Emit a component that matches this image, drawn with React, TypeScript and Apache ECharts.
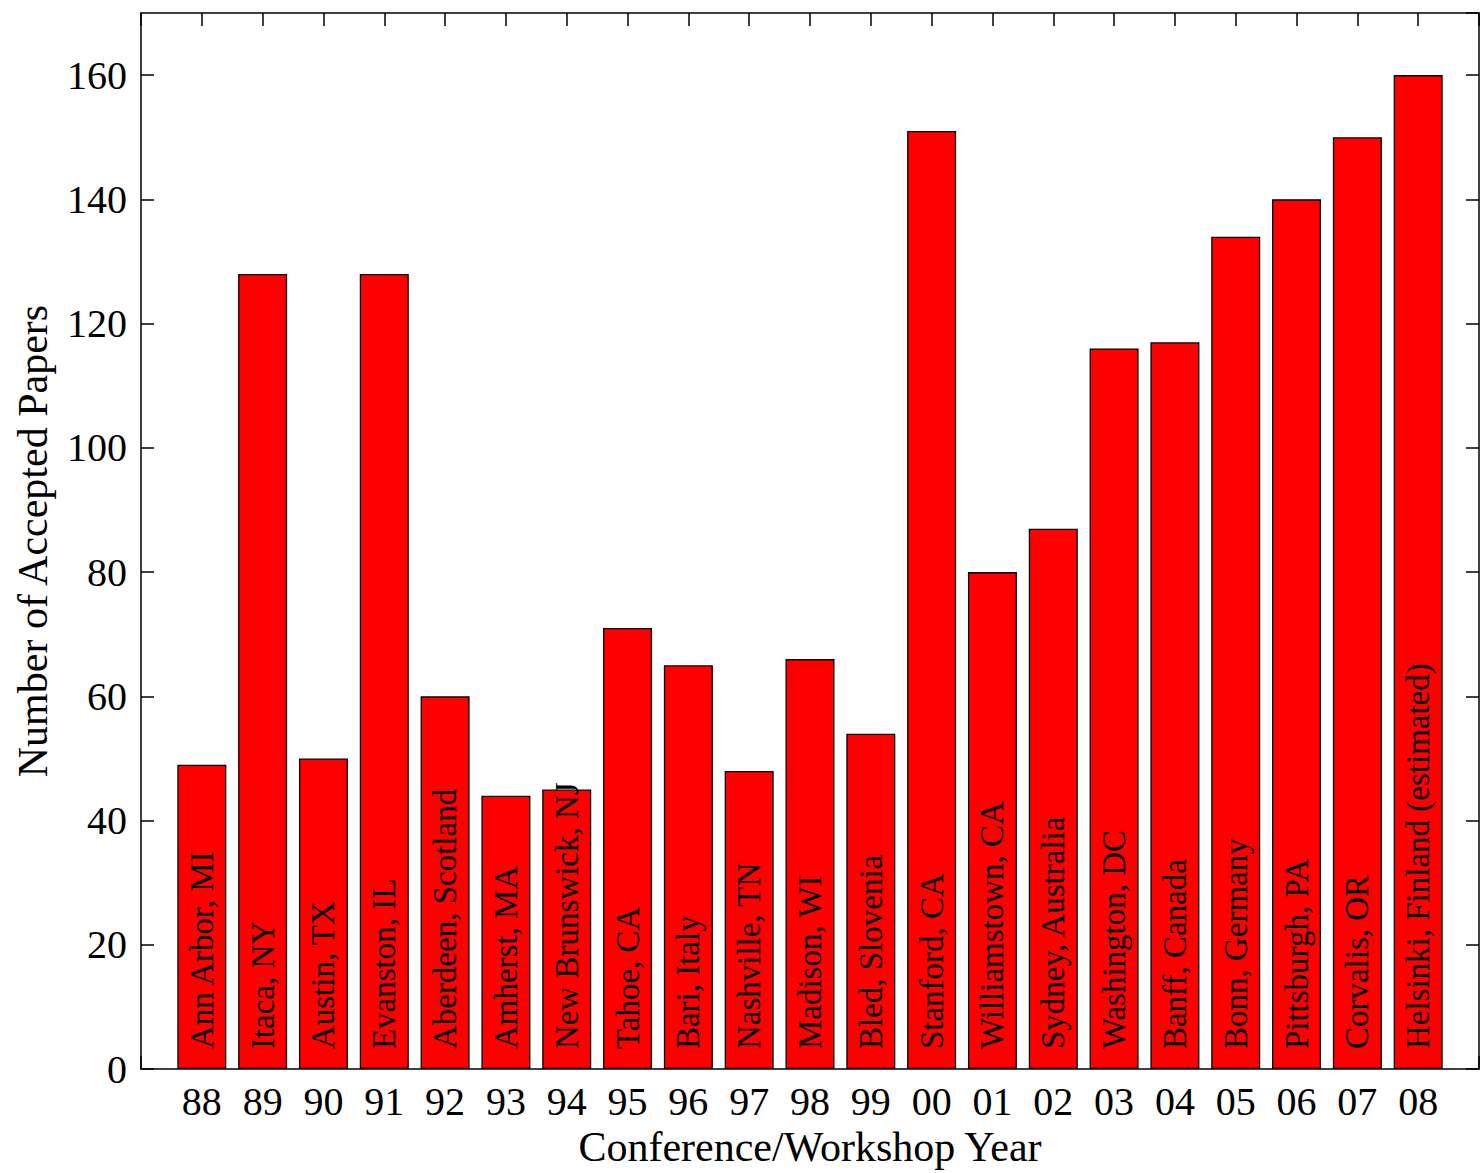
import { useEffect, useRef } from 'react';
import * as echarts from 'echarts';

const years = ['88', '89', '90', '91', '92', '93', '94', '95', '96', '97', '98', '99', '00', '01', '02', '03', '04', '05', '06', '07', '08'];
const places = [
  'Ann Arbor, MI', 'Itaca, NY', 'Austin, TX', 'Evanston, IL', 'Aberdeen, Scotland', 'Amherst, MA',
  'New Brunswick, NJ', 'Tahoe, CA', 'Bari, Italy', 'Nashville, TN', 'Madison, WI', 'Bled, Slovenia',
  'Stanford, CA', 'Williamstown, CA', 'Sydney, Australia', 'Washington, DC', 'Banff, Canada',
  'Bonn, Germany', 'Pittsburgh, PA', 'Corvalis, OR', 'Helsinki, Finland (estimated)',
];
const papers = [49, 128, 50, 128, 60, 44, 45, 71, 65, 48, 66, 54, 151, 80, 87, 116, 117, 134, 140, 150, 160];

const FONT = '"Liberation Serif", "Times New Roman", serif';

const App = () => {
  const chartRef = useRef<HTMLDivElement>(null);

  useEffect(() => {
    if (!chartRef.current) return;
    const chart = echarts.init(chartRef.current, undefined, { renderer: 'svg' });

    const tickStyle = { show: true, inside: true, length: 13, lineStyle: { color: '#000', width: 1.5 } };
    const lineStyle = { show: true, onZero: false, lineStyle: { color: '#000', width: 1.5 } };

    chart.setOption({
      animation: false,
      grid: { left: 141, top: 13, width: 1340, height: 1057, show: false },
      xAxis: [
        {
          type: 'value',
          min: 0,
          max: 22,
          interval: 1,
          position: 'bottom',
          name: 'Conference/Workshop Year',
          nameLocation: 'middle',
          nameGap: 54,
          nameTextStyle: { fontFamily: FONT, fontSize: 42, color: '#000' },
          axisLine: lineStyle,
          axisTick: tickStyle,
          axisLabel: {
            fontFamily: FONT,
            fontSize: 40,
            color: '#000',
            margin: 12,
            formatter: (v: number) => years[v - 1] ?? '',
          },
          splitLine: { show: false },
        },
        {
          type: 'value',
          min: 0,
          max: 22,
          interval: 1,
          position: 'top',
          axisLine: lineStyle,
          axisTick: tickStyle,
          axisLabel: { show: false },
          splitLine: { show: false },
        },
      ],
      yAxis: [
        {
          type: 'value',
          min: 0,
          max: 170,
          interval: 20,
          position: 'left',
          name: 'Number of Accepted Papers',
          nameLocation: 'middle',
          nameGap: 87,
          nameTextStyle: { fontFamily: FONT, fontSize: 42, color: '#000' },
          axisLine: lineStyle,
          axisTick: tickStyle,
          axisLabel: {
            fontFamily: FONT,
            fontSize: 40,
            color: '#000',
            margin: 14,
            showMaxLabel: false,
            formatter: (v: number) => (v > 160 ? '' : String(v)),
          },
          splitLine: { show: false },
        },
        {
          type: 'value',
          min: 0,
          max: 170,
          interval: 20,
          position: 'right',
          axisLine: lineStyle,
          axisTick: tickStyle,
          axisLabel: { show: false },
          splitLine: { show: false },
        },
      ],
      series: [
        {
          type: 'bar',
          xAxisIndex: 0,
          yAxisIndex: 0,
          barWidth: 49,
          data: papers.map((p, i) => [i + 1, p]),
          itemStyle: { color: '#ff0000', borderColor: '#000', borderWidth: 1.3 },
          label: {
            show: true,
            position: 'insideBottom',
            rotate: 90,
            align: 'left',
            verticalAlign: 'middle',
            distance: 20,
            fontFamily: FONT,
            fontSize: 33,
            color: '#000',
            formatter: (p: { dataIndex: number }) => places[p.dataIndex],
          },
        },
      ],
    });

    return () => {
      chart.dispose();
    };
  }, []);

  return (
    <div
      ref={chartRef}
      style={{ position: 'fixed', left: 0, top: 0, width: 1482, height: 1173, background: '#fff' }}
    />
  );
};

export default App;
